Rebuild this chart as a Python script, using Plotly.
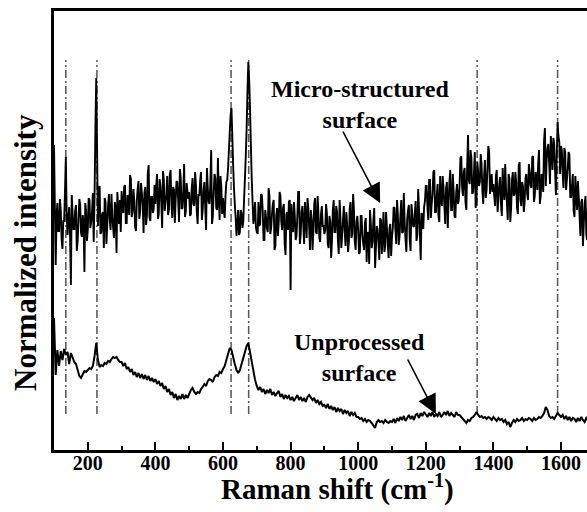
import plotly.graph_objects as go

# Raman shift sampling (cm^-1): main grid and the half-step samples in between
shift = list(range(100, 1685, 5))
shift_mid = [s + 2.5 for s in shift[:-1]]

# Micro-structured surface (upper, noisy) - values on the main grid
micro = (
    [305, 185, 247, 219, 240, 201, 229, 293, 215, 243, 165, 237, 221, 245, 209, 251, 217, 235, 178, 239]
    + [220, 250, 228, 257, 255, 372, 224, 264, 218, 238, 252, 206, 244, 230, 256, 222, 248, 197, 240, 250]
    + [259, 237, 265, 227, 251, 275, 233, 261, 223, 249, 269, 239, 257, 217, 263, 235, 285, 229, 253, 241]
    + [246, 276, 236, 264, 222, 270, 248, 274, 240, 280, 232, 260, 250, 268, 228, 272, 242, 286, 238, 258]
    + [258, 236, 272, 244, 265, 226, 254, 278, 240, 268, 220, 262, 246, 300, 234, 276, 242, 292, 230, 264]
    + [252, 232, 268, 282, 318, 342, 285, 246, 214, 240, 218, 236, 228, 272, 322, 388, 342, 272, 226, 248]
    + [218, 248, 226, 255, 210, 240, 222, 262, 216, 236, 250, 204, 242, 228, 254, 220, 246, 195, 238, 248]
    + [160, 220, 248, 210, 234, 258, 216, 244, 206, 232, 252, 222, 240, 200, 246, 218, 254, 212, 236, 224]
    + [216, 246, 206, 234, 192, 240, 218, 244, 210, 250, 202, 230, 220, 238, 198, 242, 212, 256, 208, 228]
    + [220, 198, 234, 206, 227, 188, 216, 240, 202, 230, 182, 224, 208, 232, 196, 238, 204, 222, 192, 226]
    + [213, 243, 221, 250, 205, 235, 217, 257, 211, 231, 245, 199, 237, 223, 249, 215, 241, 190, 233, 243]
    + [264, 242, 270, 232, 256, 280, 238, 266, 228, 254, 274, 244, 262, 222, 268, 240, 276, 234, 258, 246]
    + [264, 294, 254, 282, 240, 315, 266, 292, 258, 298, 250, 278, 268, 286, 246, 290, 260, 304, 256, 276]
    + [266, 244, 280, 252, 273, 234, 262, 286, 248, 276, 228, 270, 254, 278, 242, 284, 250, 268, 238, 272]
    + [256, 286, 264, 293, 248, 278, 260, 300, 254, 274, 310, 264, 302, 288, 314, 280, 306, 255, 328, 308]
    + [304, 277, 302, 260, 281, 295, 253, 276, 233, 254, 269, 234, 248, 204, 246, 215, 248]
)

# Micro-structured surface - values at the half-step samples
micro_mid = (
    [245, 235, 219, 251, 211, 229, 258, 236, 233, 215, 255, 221, 239, 199, 231, 245, 213, 227, 247, 209]
    + [252, 222, 238, 208, 320, 300, 260, 216, 236, 202, 248, 224, 256, 220, 234, 212, 242, 258, 226, 218]
    + [243, 263, 227, 255, 235, 271, 239, 249, 219, 261, 231, 267, 245, 257, 225, 277, 233, 253, 237, 265]
    + [265, 231, 271, 247, 279, 239, 255, 235, 275, 245, 263, 227, 269, 249, 281, 241, 259, 233, 267, 251]
    + [234, 262, 246, 278, 238, 256, 270, 230, 260, 242, 282, 248, 266, 226, 258, 272, 240, 254, 274, 236]
    + [240, 255, 270, 300, 335, 315, 262, 232, 226, 215, 240, 222, 252, 295, 360, 370, 305, 248, 236, 222]
    + [216, 224, 256, 240, 210, 232, 218, 254, 222, 246, 200, 234, 214, 258, 228, 242, 206, 236, 220, 250]
    + [246, 218, 234, 214, 258, 206, 238, 226, 248, 212, 242, 200, 230, 220, 252, 216, 236, 208, 244, 224]
    + [220, 236, 202, 228, 210, 250, 218, 238, 196, 232, 214, 244, 204, 224, 208, 248, 216, 240, 200, 234]
    + [196, 234, 214, 200, 232, 218, 186, 226, 208, 242, 202, 220, 190, 230, 216, 198, 238, 206, 222, 194]
    + [222, 242, 206, 234, 214, 250, 218, 228, 198, 240, 210, 246, 224, 236, 209, 261, 217, 237, 221, 249]
    + [264, 230, 270, 246, 278, 238, 254, 234, 274, 244, 262, 226, 268, 248, 280, 240, 258, 232, 266, 250]
    + [292, 262, 278, 248, 284, 270, 300, 256, 276, 242, 288, 264, 296, 260, 274, 252, 282, 298, 266, 258]
    + [254, 274, 238, 266, 246, 282, 250, 260, 230, 272, 242, 278, 256, 268, 236, 288, 244, 264, 248, 276]
    + [250, 278, 262, 294, 254, 272, 286, 246, 276, 258, 322, 288, 306, 266, 298, 312, 280, 294, 314, 276]
    + [300, 262, 298, 270, 298, 253, 264, 239, 274, 240, 254, 214, 251, 226, 254, 210]
)

# Unprocessed surface (lower, smooth) - main grid
unproc = (
    [132, 75, 100, 84, 99, 90, 101, 95, 98, 86, 97, 92, 88, 86, 80, 74, 72, 76, 79, 78]
    + [80, 82, 81, 84, 94, 107, 90, 83, 85, 84, 87, 86, 89, 88, 91, 93, 92, 93, 90, 88]
    + [88, 84, 87, 81, 83, 78, 81, 75, 78, 73, 77, 72, 76, 71, 75, 70, 74, 69, 72, 68]
    + [71, 66, 69, 64, 67, 61, 64, 58, 61, 55, 58, 52, 56, 50, 54, 51, 56, 51, 55, 52]
    + [56, 60, 62, 58, 56, 58, 57, 61, 63, 66, 64, 69, 71, 70, 68, 73, 75, 74, 78, 77]
    + [81, 84, 90, 97, 102, 100, 92, 86, 80, 77, 80, 86, 93, 100, 104, 107, 97, 86, 76, 70]
    + [64, 60, 63, 58, 61, 56, 60, 57, 61, 55, 58, 54, 57, 59, 53, 56, 51, 55, 52, 54]
    + [50, 53, 49, 52, 55, 50, 53, 49, 52, 48, 53, 55, 52, 50, 52, 47, 50, 46, 48, 44]
    + [45, 42, 46, 41, 44, 40, 43, 38, 42, 39, 41, 36, 40, 37, 39, 34, 38, 35, 37, 33]
    + [33, 31, 32, 29, 31, 28, 30, 29, 27, 25, 22, 28, 30, 28, 29, 27, 30, 28, 27, 29]
    + [28, 31, 27, 32, 29, 33, 30, 34, 29, 32, 35, 31, 34, 30, 35, 36, 32, 37, 34, 38]
    + [36, 33, 37, 34, 38, 33, 36, 34, 38, 33, 35, 38, 35, 39, 34, 37, 35, 33, 38, 35]
    + [35, 33, 30, 28, 27, 30, 29, 32, 33, 35, 38, 35, 33, 34, 32, 33, 31, 33, 32, 30]
    + [33, 31, 29, 32, 30, 31, 28, 30, 26, 28, 23, 27, 30, 28, 31, 29, 30, 32, 29, 31]
    + [30, 32, 31, 29, 32, 30, 31, 33, 32, 34, 37, 43, 40, 34, 32, 33, 31, 34, 37, 35]
    + [33, 35, 31, 34, 30, 33, 29, 32, 31, 28, 32, 29, 33, 30, 28, 32, 30]
)

assert len(micro) == len(shift), (len(micro), len(shift))
assert len(micro_mid) == len(shift_mid), (len(micro_mid), len(shift_mid))
assert len(unproc) == len(shift), (len(unproc), len(shift))

# Marked band positions (cm^-1) and their guide-line extent
band_positions = [135, 227, 624, 676, 1352, 1590]
guide_bottom, guide_top = 36, 390

x_ticks = [200, 400, 600, 800, 1000, 1200, 1400, 1600]

FONT = "Liberation Serif, Times New Roman, serif"

# merge the main-grid and half-step samples of the upper spectrum in x order
mx, my = [], []
for i, s in enumerate(shift):
    mx.append(s)
    my.append(micro[i])
    if i < len(shift_mid):
        mx.append(shift_mid[i])
        my.append(micro_mid[i])

fig = go.Figure()

gx, gy = [], []
for b in band_positions:
    gx += [b, b, None]
    gy += [guide_bottom, guide_top, None]
fig.add_trace(go.Scatter(x=gx, y=gy, mode="lines",
                         line=dict(color="#555555", width=1.5, dash="8px,3px,2px,3px"),
                         hoverinfo="skip"))

fig.add_trace(go.Scatter(x=mx, y=my, mode="lines",
                         line=dict(color="black", width=1.9, simplify=False),
                         name="Micro-structured surface"))
fig.add_trace(go.Scatter(x=shift, y=unproc, mode="lines",
                         line=dict(color="black", width=2), name="Unprocessed surface"))

fig.update_layout(
    width=587, height=512,
    margin=dict(l=54, r=0, t=11, b=62),
    paper_bgcolor="white", plot_bgcolor="white",
    showlegend=False,
    font=dict(family=FONT, color="black"),
    xaxis=dict(
        range=[100, 1677], showgrid=False, zeroline=False,
        showline=True, linewidth=2.5, linecolor="black", mirror=True,
        tickmode="array", tickvals=x_ticks, ticktext=[str(v) for v in x_ticks],
        ticks="inside", ticklen=8, tickwidth=2, tickcolor="black",
        ticklabelstandoff=-7,
        minor=dict(ticks="inside", ticklen=4, tickwidth=2, tickcolor="black",
                   tickmode="linear", tick0=100, dtick=200),
        tickfont=dict(family=FONT, size=20, weight="bold", color="black"),
    ),
    yaxis=dict(
        range=[0, 439], showgrid=False, zeroline=False,
        showline=True, linewidth=2.5, linecolor="black",
        showticklabels=False, ticks="",
    ),
)

fig.add_annotation(xref="paper", yref="paper", x=(337 - 54) / 533, y=-(488 - 450) / 439,
                   text="Raman shift (cm<sup>-1</sup>)", showarrow=False,
                   xanchor="center", yanchor="middle",
                   font=dict(family=FONT, size=29, weight="bold", color="black"))
fig.add_annotation(xref="paper", yref="paper", x=0, y=(450 - 253) / 439, xshift=-29,
                   text="Normalized intensity", showarrow=False, textangle=-90,
                   xanchor="center", yanchor="middle",
                   font=dict(family=FONT, size=31, weight="bold", color="black"))

fig.add_annotation(x=1005, y=450 - 104, text="Micro-structured<br>surface", showarrow=False,
                   xanchor="center", yanchor="middle",
                   font=dict(family=FONT, size=24, weight="bold", color="black"))
fig.add_annotation(x=1065, y=247, ax=-38, ay=-73, text="", showarrow=True,
                   arrowhead=2, arrowsize=2.4, arrowwidth=1.6, arrowcolor="black")

fig.add_annotation(x=1005, y=450 - 357, text="Unprocessed<br>surface", showarrow=False,
                   xanchor="center", yanchor="middle",
                   font=dict(family=FONT, size=24, weight="bold", color="black"))
fig.add_annotation(x=1230, y=36, ax=-29, ay=-56, text="", showarrow=True,
                   arrowhead=2, arrowsize=2.4, arrowwidth=1.6, arrowcolor="black")

fig.write_html("out.html")
